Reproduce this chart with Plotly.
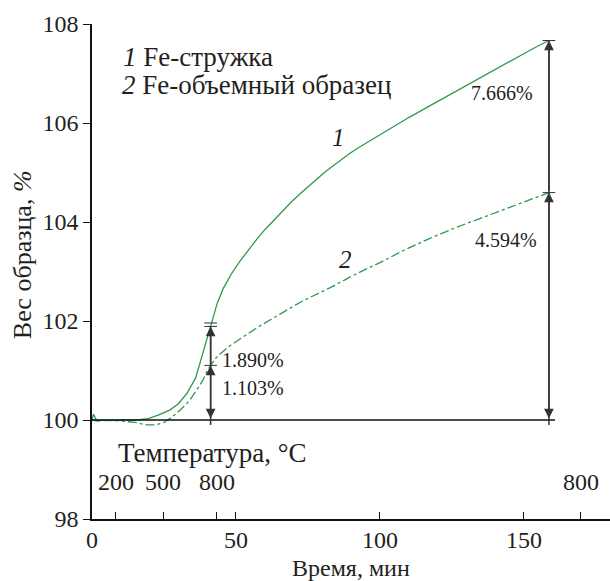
import plotly.graph_objects as go

# ---- data ----
t1 = [0, 0.5, 1.5, 5, 10, 15, 19, 23, 27, 30, 33, 36, 38, 39.5, 40.5, 41.2, 41.6, 43.5, 45.6,
      48.5, 51.4, 54.3, 57.2, 60.1, 63, 66, 68.8, 71.7, 74.5, 77.4, 80.3, 83.2, 86.1, 89.6, 93.1,
      96.5, 100, 104.6, 110, 116.2, 122, 127.8, 133.5, 139.3, 145, 150.9, 155, 158.7]
w1 = [100.0, 100.12, 100.0, 99.99, 100.0, 100.0, 100.02, 100.1, 100.2, 100.33, 100.54, 100.85,
      101.25, 101.55, 101.75, 101.89, 101.98, 102.36, 102.66, 102.96, 103.21, 103.44, 103.65,
      103.85, 104.03, 104.21, 104.38, 104.54, 104.69, 104.84, 104.98, 105.11, 105.24, 105.39,
      105.52, 105.64, 105.77, 105.93, 106.11, 106.31, 106.50, 106.68, 106.87, 107.06, 107.24,
      107.43, 107.56, 107.666]

t2 = [0, 2, 6, 10, 15, 19, 22, 25, 28, 31, 34, 36.5, 38.5, 40, 41.2, 43, 45, 47.9, 52.5, 58,
      65.3, 73, 82.6, 91, 100, 108, 117.4, 126, 134.7, 141.5, 148.6, 153.5, 158.7]
w2 = [100.0, 99.98, 100.0, 99.98, 99.95, 99.9, 99.9, 99.95, 100.07, 100.22, 100.40, 100.62,
      100.8, 101.0, 101.103, 101.25, 101.36, 101.5, 101.68, 101.89, 102.14, 102.40, 102.67,
      102.93, 103.18, 103.42, 103.67, 103.88, 104.07, 104.22, 104.38, 104.48, 104.594]

time_ticks = [0, 50, 100, 150]
time_labels = ["0", "50", "100", "150"]
temp_ticks = [8.3, 24.7, 43.4, 169.8]
temp_labels = ["200", "500", "800", "800"]

arrow_t = [41.2, 158.7]
gain1 = [1.890, 7.666]   # Fe-стружка
gain2 = [1.103, 4.594]   # Fe-объемный образец
base = 100.0

FONT = "Liberation Serif"
TXT = "#231f20"
GREEN = "#2e9a4c"
DARK = "#333333"

fig = go.Figure()
fig.add_trace(go.Scatter(x=t1, y=w1, mode="lines", line=dict(color=GREEN, width=1.3),
                         showlegend=False, hoverinfo="skip"))
fig.add_trace(go.Scatter(x=t2, y=w2, mode="lines", line=dict(color=GREEN, width=1.3, dash="dashdot"),
                         showlegend=False, hoverinfo="skip"))

shapes = []
annotations = []
# baseline
shapes.append(dict(type="line", xref="x", yref="y", x0=0, x1=160.8, y0=base, y1=base,
                   line=dict(color="#111", width=1.5)))
for i, ta in enumerate(arrow_t):
    top1 = base + gain1[i]
    top2 = base + gain2[i]
    shapes.append(dict(type="line", xref="x", yref="y", x0=ta, x1=ta, y0=base - 0.1, y1=top1,
                       line=dict(color=DARK, width=1.5)))
    for yy in [top2, top1]:
        shapes.append(dict(type="line", xref="x", yref="y", x0=ta - 2.2, x1=ta + 2.2, y0=yy, y1=yy,
                           line=dict(color=DARK, width=1)))
    if i == 0:
        shapes.append(dict(type="line", xref="x", yref="y", x0=ta - 2.2, x1=ta + 2.2,
                           y0=top1 + 0.07, y1=top1 + 0.07, line=dict(color=DARK, width=1)))
    annotations.append(dict(x=ta, y=top2, ax=ta, ay=base, xref="x", yref="y", axref="x", ayref="y",
                            text="", showarrow=True, arrowhead=2, startarrowhead=2,
                            arrowside="end+start", arrowsize=1.3, startarrowsize=1.3,
                            arrowwidth=1.5, arrowcolor=DARK))
    annotations.append(dict(x=ta, y=top1, ax=ta, ay=top2, xref="x", yref="y", axref="x", ayref="y",
                            text="", showarrow=True, arrowhead=2, arrowsize=1.3,
                            arrowwidth=1.5, arrowcolor=DARK))

def txt(x, y, s, size=20, xanchor="center", yanchor="middle", xref="x", yref="y", **kw):
    d = dict(x=x, y=y, text=s, showarrow=False, xanchor=xanchor, yanchor=yanchor,
             xref=xref, yref=yref, font=dict(family=FONT, size=size, color=TXT))
    d.update(kw)
    annotations.append(d)

# percentage labels
txt(44.3, 101.21, f"{gain1[0]:.3f}%", xanchor="left")
txt(44.3, 100.65, f"{gain2[0]:.3f}%", xanchor="left")
txt(153.8, 106.61, f"{gain1[1]:.3f}%", xanchor="right")
txt(155.3, 103.64, f"{gain2[1]:.3f}%", xanchor="right")

# curve labels
txt(85.5, 105.7, "<i>1</i>", size=25)
txt(88.0, 103.24, "<i>2</i>", size=25)
# legend text
txt(10.2, 107.34, "<i>1</i> Fe-стружка", size=27, xanchor="left")
txt(9.6, 106.77, "<i>2</i> Fe-объемный образец", size=27, xanchor="left")
# temperature axis text
txt(8.3, 99.34, "Температура, °С", size=27, xanchor="left")
for tt, lab in zip(temp_ticks, temp_labels):
    txt(tt, 98.74, lab, size=24)
# axis titles
txt(0, 103.33, "Вес образца, <i>%</i>", size=26, xref="paper", xshift=-70, textangle=-90)
txt(0.5, 0, "Время, мин", size=24, xref="paper", yref="paper", yanchor="top", yshift=-34)

fig.update_layout(
    width=610, height=581,
    margin=dict(l=92, r=0, t=24, b=62),
    paper_bgcolor="white", plot_bgcolor="white",
    font=dict(family=FONT, size=24, color=TXT),
    shapes=shapes, annotations=annotations,
    xaxis=dict(range=[0, 179.9], showline=True, linecolor="#111", linewidth=1.5,
               ticks="inside", ticklen=7, tickwidth=1.2, tickcolor="#111",
               tickvals=time_ticks + temp_ticks,
               ticktext=time_labels + [""] * len(temp_ticks),
               ticklabelstandoff=-2,
               showgrid=False, zeroline=False, tickfont=dict(size=24)),
    yaxis=dict(range=[98, 108], showline=True, linecolor="#111", linewidth=1.5,
               ticks="outside", ticklen=7, tickwidth=1.2, tickcolor="#111",
               tickvals=[98, 100, 102, 104, 106, 108],
               showgrid=False, zeroline=False, tickfont=dict(size=24)),
)

fig.write_html("out.html")
